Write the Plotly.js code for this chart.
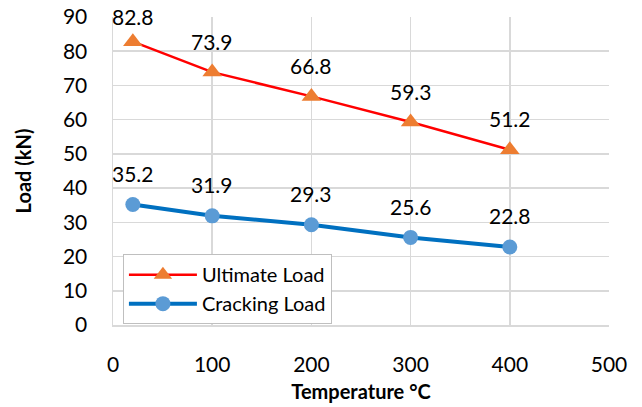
<!DOCTYPE html>
<html>
<head>
<meta charset="utf-8">
<script src="https://cdn.plot.ly/plotly-3.0.1.min.js"></script>
<style>html,body{margin:0;padding:0;background:#fff}#chart{width:642px;height:407px}</style>
</head>
<body>
<div id="chart"></div>
<script>
const temperatures = [20, 100, 200, 300, 400];
const ultimateLoad = [82.8, 73.9, 66.8, 59.3, 51.2];
const crackingLoad = [35.2, 31.9, 29.3, 25.6, 22.8];
const xTicks = [0, 100, 200, 300, 400, 500];
const yTicks = [0, 10, 20, 30, 40, 50, 60, 70, 80, 90];

const FONT = 'Lato, "Open Sans", sans-serif';
const traces = [
  {x: temperatures, y: ultimateLoad, name: 'Ultimate Load', mode: 'lines+markers',
   line: {color: '#FF0000', width: 2.5},
   marker: {symbol: 'triangle-up', size: 17, color: '#ED7D31'}},
  {x: temperatures, y: crackingLoad, name: 'Cracking Load', mode: 'lines+markers',
   line: {color: '#0070C0', width: 4},
   marker: {symbol: 'circle', size: 15, color: '#5B9BD5'}}
];

const annotations = [];
[ultimateLoad, crackingLoad].forEach(series => {
  series.forEach((v, i) => {
    annotations.push({x: temperatures[i], y: v, xref: 'x', yref: 'y', text: v.toFixed(1),
      showarrow: false, yshift: v > 80 ? 25 : 31, yanchor: 'middle', xanchor: 'center',
      font: {family: FONT, size: 21, color: '#000'}});
  });
});

const layout = {
  width: 642, height: 407,
  margin: {l: 113, r: 33, t: 17, b: 82},
  paper_bgcolor: '#fff', plot_bgcolor: '#fff',
  font: {family: FONT, size: 21, color: '#000'},
  showlegend: true,
  legend: {x: 0.02, y: 0.23, xanchor: 'left', yanchor: 'top', bgcolor: '#fff',
    bordercolor: '#BFBFBF', borderwidth: 1, font: {family: FONT, size: 20},
    tracegroupgap: 0, itemwidth: 68},
  xaxis: {range: [0, 500], tickvals: xTicks, ticktext: xTicks.map(String),
    showgrid: true, gridcolor: '#D9D9D9', gridwidth: 1.5, zeroline: false,
    showline: true, linecolor: '#D9D9D9', linewidth: 1.5, mirror: false,
    ticks: 'outside', ticklen: 20, tickcolor: 'rgba(0,0,0,0)',
    title: {text: '<b>Temperature °C</b>', font: {family: FONT, size: 20}, standoff: 10}},
  yaxis: {range: [0, 90], tickvals: yTicks, ticktext: yTicks.map(String),
    showgrid: true, gridcolor: '#D9D9D9', gridwidth: 1.5, zeroline: false,
    showline: true, linecolor: '#D9D9D9', linewidth: 1.5,
    ticks: 'outside', ticklen: 20, tickcolor: 'rgba(0,0,0,0)',
    title: {text: '<b>Load (kN)</b>', font: {family: FONT, size: 20}, standoff: 26}},
  annotations: annotations
};
Plotly.newPlot('chart', traces, layout, {displayModeBar: false, staticPlot: true});
</script>
</body>
</html>
